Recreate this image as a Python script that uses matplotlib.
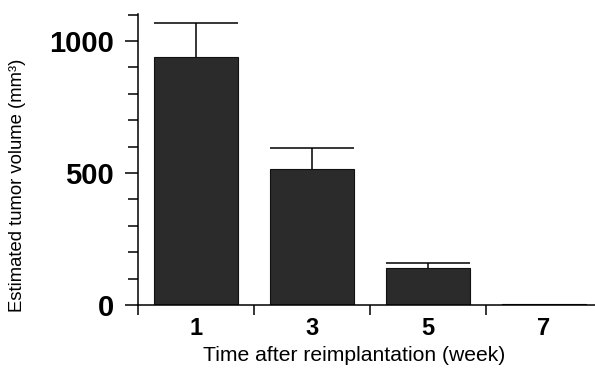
import numpy as np
import matplotlib
matplotlib.use("Agg")
import matplotlib.pyplot as plt
from matplotlib.ticker import MultipleLocator

# Data
weeks = ["1", "3", "5", "7"]
volume = [939, 515, 140, 4]        # mean tumor volume (mm^3)
error_up = [128, 80, 19, 0]        # upper error bar

plt.rcParams['font.family'] = ['Liberation Sans', 'DejaVu Sans']

fig = plt.figure(figsize=(5.95, 3.74), dpi=100)
ax = fig.add_axes([0.232, 0.1845, 0.768, 0.778])

x = np.arange(len(weeks))
width = 0.72
ax.bar(x, volume, width=width, color="#2b2b2b", edgecolor="#111111",
       linewidth=0.8, zorder=2)

# error bars: stem plus a cap as wide as the bar
tops = np.array(volume) + np.array(error_up)
has_err = np.array(error_up) > 0
ax.vlines(x[has_err], np.array(volume)[has_err], tops[has_err],
          color="black", linewidth=1.1, zorder=3)
ax.hlines(tops[has_err], x[has_err] - width / 2, x[has_err] + width / 2,
          color="black", linewidth=1.1, zorder=3)

ax.set_xlim(-0.5, 3.44)
ax.set_ylim(0, 1102)

for side in ["top", "right"]:
    ax.spines[side].set_visible(False)
ax.spines["left"].set_linewidth(1.1)
ax.spines["bottom"].set_linewidth(1.1)

# y ticks
ax.set_yticks([0, 500, 1000])
ax.yaxis.set_minor_locator(MultipleLocator(100))
ax.tick_params(axis="y", which="major", length=9.5, width=1.1, pad=8,
               labelsize=21)
ax.tick_params(axis="y", which="minor", length=7, width=1.1)
for lab in ax.get_yticklabels():
    lab.set_fontweight("bold")

# x ticks: marks between groups, labels at group centers
ax.set_xticks([-0.5, 0.5, 1.5, 2.5])
ax.set_xticklabels([])
ax.tick_params(axis="x", which="major", length=7, width=1.1)
ax.set_xticks(x, minor=True)
ax.set_xticklabels(weeks, minor=True, fontsize=17, fontweight="bold")
ax.tick_params(axis="x", which="minor", length=0, pad=9)

ax.set_xlabel("Time after reimplantation (week)", fontsize=15.2)
ax.set_ylabel("Estimated tumor volume (mm³)", fontsize=13.3)
ax.xaxis.set_label_coords(0.473, -0.141)
ax.yaxis.set_label_coords(-0.245, 0.41)

fig.savefig("out.png", dpi=100)
